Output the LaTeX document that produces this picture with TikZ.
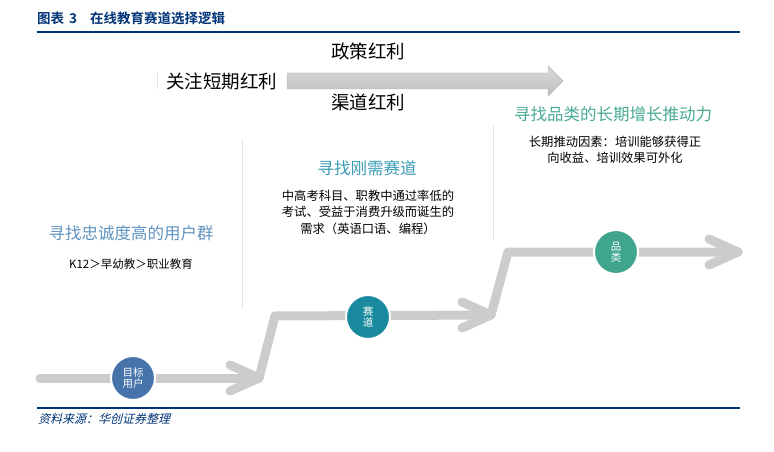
\documentclass[tikz,border=0pt]{standalone}
\usepackage{fontspec}
\setmainfont{Noto Sans CJK SC}
\newfontfamily\cjkbold{Noto Sans CJK SC Bold}
\newfontfamily\cjkslant{Noto Sans CJK SC}[FakeSlant=0.25]
\usepackage{tikz}
\usetikzlibrary{positioning}
\definecolor{navy}{RGB}{0,52,120}
\definecolor{trackgray}{RGB}{204,204,204}
\definecolor{userblue}{RGB}{70,116,170}
\definecolor{trackteal}{RGB}{26,138,159}
\definecolor{catgreen}{RGB}{63,165,143}
\definecolor{usertext}{RGB}{96,147,192}
\definecolor{tracktext}{RGB}{59,157,181}
\definecolor{cattext}{RGB}{74,170,148}
\tikzset{track/.style = {draw = trackgray, line width = 9, line cap = round, line join = round}}
\tikzset{stage/.style = {circle, minimum size = 44, inner sep = 0, draw = white, line width = 2, text = white, font = \fontsize{10.5}{12}\selectfont, align = center}}
\tikzset{head/.style = {font = \fontsize{16.5}{20}\selectfont}}
\tikzset{body/.style = {font = \fontsize{12.3}{16.5}\selectfont, align = center}}
\tikzset{big/.style = {font = \fontsize{18.5}{22}\selectfont}}
\tikzset{sep/.style = {draw = black!12, line width = 1}}

\begin{document}
\begin{tikzpicture}[x = 1pt, y = -1pt]
    \useasboundingbox [fill = white] (0, 0) rectangle (774, 452);

    % heading and rules
    \node [anchor = west, text = navy, inner sep = 0] (title) at (37, 18) {\cjkbold\fontsize{13.5}{15}\selectfont 图表\hspace{5pt}3\hspace{13pt}在线教育赛道选择逻辑};
    \draw [navy, line width = 2] (37, 32) -- (740, 32);
    \draw [navy, line width = 2] (37, 408) -- (740, 408);
    \node [anchor = west, text = navy, inner sep = 0] (source) at (38, 419) {\cjkslant\fontsize{12}{13}\selectfont 资料来源：华创证券整理};

    % short term arrow
    \shade [top color = black!15, bottom color = black!25, draw = black!30]
        (287, 73) -- (548, 73) -- (548, 66) -- (563, 81) -- (548, 96) -- (548, 89) -- (287, 89) -- cycle;
    \draw [sep] (157, 73) -- (157, 89);
    \node [big, anchor = east] (short) at (281, 81) {关注短期红利};
    \node [big] (policy) at (368, 51) {政策红利};
    \node [big] (channel) at (368, 102) {渠道红利};

    % separators
    \draw [sep] (242, 140) -- (242, 308);
    \draw [sep] (493, 126) -- (493, 240);

    % stair track
    \coordinate (s0) at (40, 378);
    \coordinate (t1) at (259, 378);
    \coordinate (c1) at (275, 316);
    \coordinate (t2) at (491, 315);
    \coordinate (c2) at (508, 252);
    \coordinate (t3) at (738, 252);
    \draw [track] (s0) -- (t1);
    \draw [track] (t1) -- (c1) -- (t2) -- (c2) -- (t3);
    \draw [track] (230, 365) -- (t1) -- (230, 391);
    \draw [track] (462, 302) -- (t2) -- (462, 328);
    \draw [track] (709, 239) -- (t3) -- (709, 265);

    \node [stage, fill = userblue] (user) at (133, 378) {目标\\[-1pt]用户};
    \node [stage, fill = trackteal] (race) at (368, 317) {赛\\[-1pt]道};
    \node [stage, fill = catgreen] (cat) at (616, 252) {品\\[-1pt]类};

    % stage texts
    \node [head, text = usertext] (userhead) at (131, 233) {寻找忠诚度高的用户群};
    \node [body, font = \fontsize{11.5}{14}\selectfont] (userbody) at (131, 264) {K12＞早幼教＞职业教育};
    \node [head, text = tracktext] (racehead) at (367, 168) {寻找刚需赛道};
    \node [body] (racebody) at (368, 212) {中高考科目、职教中通过率低的\\考试、受益于消费升级而诞生的\\需求（英语口语、编程）};
    \node [head, text = cattext] (cathead) at (613, 114) {寻找品类的长期增长推动力};
    \node [body] (catbody) at (615, 150) {长期推动因素：培训能够获得正\\向收益、培训效果可外化};
\end{tikzpicture}
\end{document}
